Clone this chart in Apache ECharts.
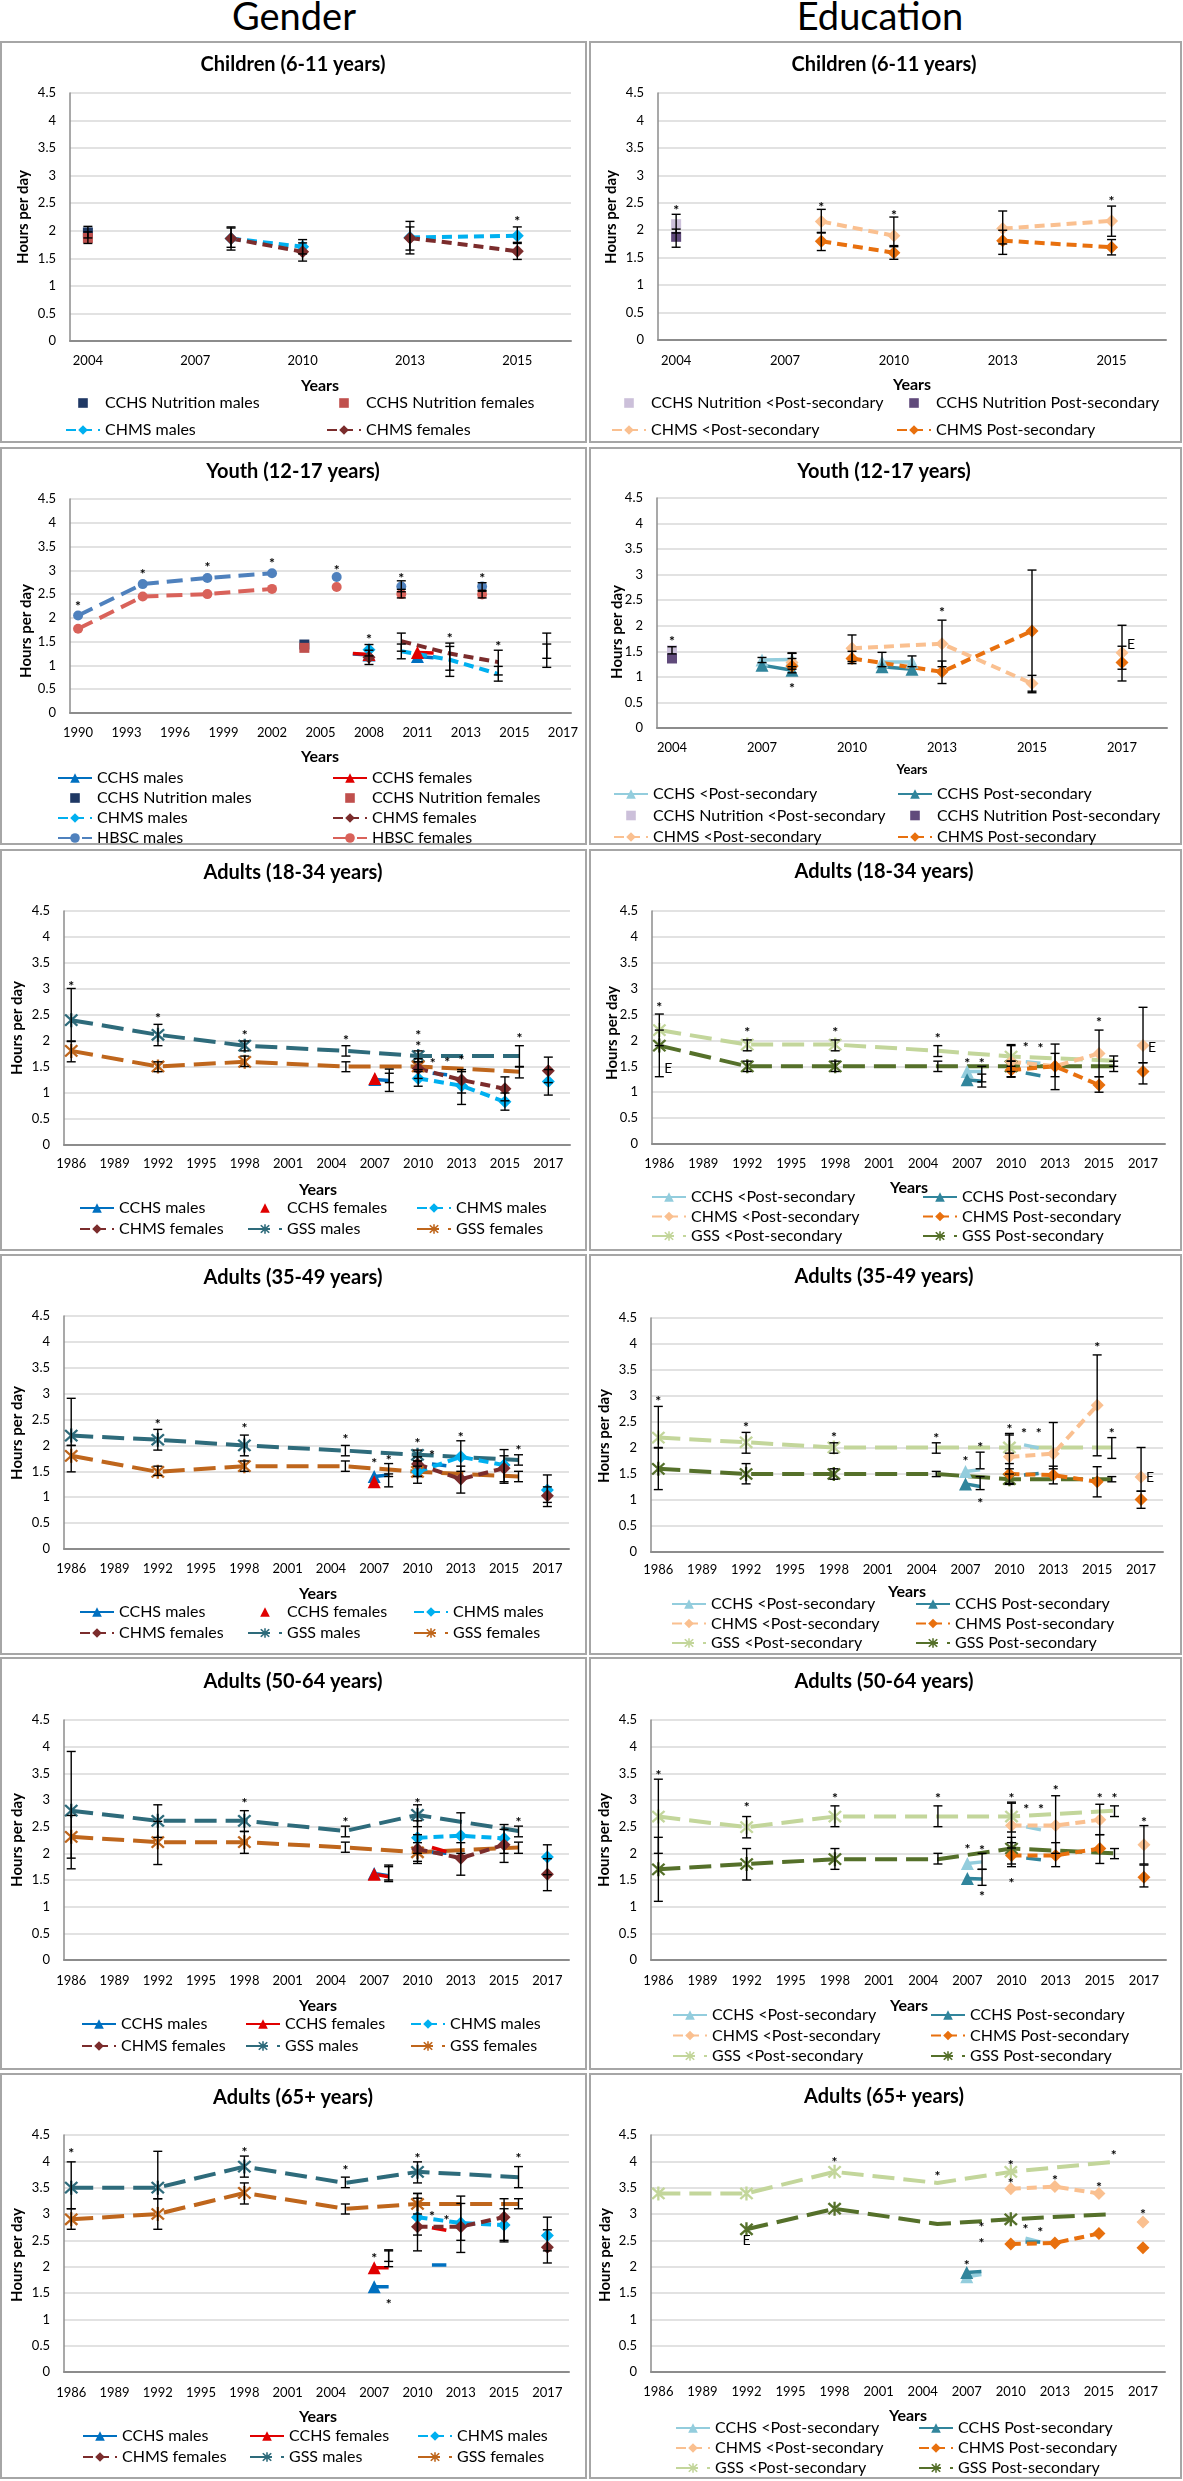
<!DOCTYPE html>
<html><head><meta charset="utf-8">
<script src="https://cdn.jsdelivr.net/npm/echarts/dist/echarts.min.js"></script>
<style>
html,body{margin:0;padding:0;background:#fff;}
body{width:1183px;height:2481px;position:relative;overflow:hidden;font-family:Lato,'Noto Sans',sans-serif;}
.hdr{position:absolute;top:0;height:30px;line-height:30px;font-size:38px;color:#000;text-align:center;width:400px;}
.box{position:absolute;border:2px solid #A6A6A6;box-sizing:border-box;}
.chart{position:absolute;}
</style></head><body>
<div class="hdr" style="left:94px">Gender</div>
<div class="hdr" style="left:680px">Education</div>
<script>
// ---------- tick labels ----------
const CHILD_TICKS = ['2004','2007','2010','2013','2015'];
const YOUTH_G_TICKS = ['1990','1993','1996','1999','2002','2005','2008','2011','2013','2015','2017'];
const YOUTH_E_TICKS = ['2004','2007','2010','2013','2015','2017'];
const ADULT_TICKS = ['1986','1989','1992','1995','1998','2001','2004','2007','2010','2013','2015','2017'];

// points: [slot, hours, low, high]; null = break in the line
// ---------- Children (6-11) gender ----------
const CHG_NUT_M = [[0,1.97,1.87,2.08]];
const CHG_NUT_F = [[0,1.87,1.77,1.98]];
const CHG_CHMS_M = [[4,1.86,1.65,2.05],[6,1.71,1.58,1.84],null,[9,1.88,1.58,2.17],[12,1.91,1.77,2.07]];
const CHG_CHMS_F = [[4,1.86,1.70,2.07],[6,1.62,1.45,1.78],null,[9,1.87,1.65,2.07],[12,1.63,1.48,1.79]];
const CHG_NOTES = [[12,2.22,'*']];
// ---------- Children education ----------
const CHE_NUT_L = [[0,2.11,1.95,2.29]];
const CHE_NUT_P = [[0,1.88,1.69,2.02]];
const CHE_CHMS_L = [[4,2.16,1.95,2.38],[6,1.90,1.70,2.24],null,[9,2.03,1.75,2.35],[12,2.17,1.89,2.44]];
const CHE_CHMS_P = [[4,1.80,1.63,1.96],[6,1.59,1.47,1.72],null,[9,1.81,1.56,2.00],[12,1.69,1.55,1.83]];
const CHE_NOTES = [[0,2.41,'*'],[4,2.47,'*'],[6,2.32,'*'],[12,2.58,'*']];
// ---------- Youth (12-17) gender ----------
const YTG_HBSC_M = [[0,2.05],[4,2.71],[8,2.84],[12,2.94],null,[16,2.86],null,[20,2.66,2.55,2.78],null,[25,2.66,2.58,2.74]];
const YTG_HBSC_F = [[0,1.77],[4,2.45],[8,2.50],[12,2.61],null,[16,2.65],null,[20,2.50,2.42,2.60],null,[25,2.49,2.42,2.56]];
const YTG_NUT_M = [[14,1.44]];
const YTG_NUT_F = [[14,1.37]];
const YTG_CCHS_M = [[17,1.24],[18,1.22],null,[21,1.19],[22,1.16]];
const YTG_CCHS_F = [[17,1.25],[18,1.23],null,[21,1.27],[22,1.26]];
const YTG_CHMS_M = [[18,1.33,1.20,1.44],null,[20,1.30,1.14,1.45],[23,1.12,0.90,1.40],[26,0.82,0.67,0.98],null,[29,1.21,0.96,1.45]];
const YTG_CHMS_F = [[18,1.17,1.02,1.32],null,[20,1.51,1.30,1.68],[23,1.25,0.77,1.47],[26,1.07,0.80,1.32],null,[29,1.42,1.15,1.68]];
const YTG_NOTES = [[0,2.31,'*'],[4,2.97,'*'],[8,3.13,'*'],[12,3.21,'*'],[16,3.07,'*'],[20,2.89,'*'],[25,2.89,'*'],[18,1.61,'*'],[23,1.63,'*'],[26,1.47,'*']];
// ---------- Youth education ----------
const YTE_NUT_L = [[0,1.52,1.45,1.59]];
const YTE_NUT_P = [[0,1.36]];
const YTE_CCHS_L = [[3,1.33,1.28,1.38],[4,1.34,1.20,1.47],null,[7,1.29,1.20,1.48],[8,1.29,1.20,1.41]];
const YTE_CCHS_P = [[3,1.23],[4,1.13],null,[7,1.20],[8,1.15]];
const YTE_CHMS_L = [[4,1.28,1.15,1.46],null,[6,1.56,1.30,1.82],[9,1.65,1.20,2.11],[12,0.87,0.69,1.03],null,[15,1.47,1.15,2.01]];
const YTE_CHMS_P = [[4,1.21,1.08,1.36],null,[6,1.36,1.26,1.50],[9,1.10,0.87,1.31],[12,1.90,0.72,3.09],null,[15,1.28,0.92,1.60]];
const YTE_NOTES = [[0,1.75,'*'],[9,2.32,'*'],[4,0.84,'*'],[15,1.64,'E','r']];
// ---------- Adults 18-34 gender ----------
const A1G_GSS_M = [[0,2.40,1.99,3.01],[6,2.12,1.91,2.32],[12,1.91,1.81,2.00],[19,1.81,1.71,1.91],[24,1.71,1.60,1.81],[31,1.71,1.50,1.91]];
const A1G_GSS_F = [[0,1.81,1.60,2.00],[6,1.51,1.41,1.60],[12,1.60,1.51,1.71],[19,1.51,1.41,1.60],[24,1.51,1.41,1.60],[31,1.41,1.29,1.51]];
const A1G_CCHS_M = [[21,1.26],[22,1.24],null,[25,1.38],[26,1.35]];
const A1G_CCHS_F = [[21,1.28],[22,1.22],null,[25,1.46],[26,1.44]];
const A1G_CHMS_M = [[22,1.35,1.20,1.46],null,[24,1.28,1.13,1.45],[27,1.14,0.78,1.41],[30,0.83,0.67,1.00],null,[33,1.22,0.96,1.45]];
const A1G_CHMS_F = [[22,1.20,1.03,1.38],null,[24,1.47,1.28,1.66],[27,1.25,1.00,1.45],[30,1.08,0.85,1.31],null,[33,1.43,1.20,1.69]];
const A1G_NOTES = [[0,3.11,'*'],[6,2.49,'*'],[12,2.16,'*'],[19,2.07,'*'],[24,2.16,'*'],[24,1.96,'*'],[25,1.62,'*'],[26,1.65,'*'],[27,1.69,'*'],[31,2.10,'*']];
// ---------- Adults 18-34 education ----------
const A1E_GSS_L = [[0,2.20,1.90,2.51],[6,1.92,1.80,2.01],[12,1.92,1.80,2.01],[19,1.80,1.69,1.90],[24,1.69,1.50,1.90],[31,1.61,1.50,1.70]];
const A1E_GSS_P = [[0,1.90,1.30,2.20],[6,1.50,1.40,1.60],[12,1.50,1.40,1.60],[19,1.50,1.40,1.60],[24,1.50,1.30,1.60],[31,1.50,1.40,1.60]];
const A1E_CCHS_L = [[21,1.40],[22,1.40],null,[25,1.59],[26,1.56]];
const A1E_CCHS_P = [[21,1.24],[22,1.21],null,[25,1.37],[26,1.32]];
const A1E_CHMS_L = [[22,1.34,1.20,1.50],null,[24,1.59,1.40,1.92],[27,1.50,1.30,1.93],[30,1.75,1.30,2.20],null,[33,1.90,1.57,2.64]];
const A1E_CHMS_P = [[22,1.21,1.10,1.35],null,[24,1.43,1.29,1.60],[27,1.50,1.05,1.75],[30,1.14,1.00,1.30],null,[33,1.40,1.16,1.57]];
const A1E_NOTES = [[0,2.70,'*'],[6,2.22,'*'],[12,2.22,'*'],[19,2.10,'*'],[21,1.61,'*'],[22,1.61,'*'],[25,1.92,'*'],[26,1.90,'*'],[30,2.40,'*'],[0,1.45,'E','r'],[33,1.87,'E','r']];
// ---------- Adults 35-49 gender ----------
const A2G_GSS_M = [[0,2.19,2.00,2.91],[6,2.11,1.91,2.31],[12,2.00,1.80,2.20],[19,1.90,1.80,2.00],[24,1.82,1.70,1.91],[31,1.72,1.62,1.82]];
const A2G_GSS_F = [[0,1.80,1.49,2.00],[6,1.49,1.42,1.60],[12,1.60,1.50,1.70],[19,1.60,1.50,1.70],[24,1.49,1.40,1.60],[31,1.40,1.30,1.50]];
const A2G_CCHS_M = [[21,1.40],[22,1.43],null,[25,1.64],[26,1.61]];
const A2G_CCHS_F = [[21,1.30],[22,1.27],null,[25,1.46],[26,1.56]];
const A2G_CHMS_M = [[22,1.54,1.40,1.65],null,[24,1.49,1.27,1.70],[27,1.78,1.50,2.09],[30,1.62,1.30,1.92],null,[33,1.14,0.90,1.43]];
const A2G_CHMS_F = [[22,1.31,1.20,1.45],null,[24,1.64,1.40,1.78],[27,1.35,1.08,1.60],[30,1.56,1.27,1.80],null,[33,1.03,0.82,1.20]];
const A2G_NOTES = [[6,2.46,'*'],[12,2.39,'*'],[19,2.18,'*'],[21,1.70,'*'],[22,1.76,'*'],[24,2.09,'*'],[25,1.86,'*'],[27,2.22,'*'],[31,1.96,'*']];
// ---------- Adults 35-49 education ----------
const A2E_GSS_L = [[0,2.20,2.00,2.80],[6,2.11,1.90,2.30],[12,2.01,1.90,2.10],[19,2.01,1.90,2.10],[24,2.01,1.90,2.28],[31,2.01,1.80,2.20]];
const A2E_GSS_P = [[0,1.60,1.20,2.01],[6,1.50,1.31,1.70],[12,1.50,1.40,1.60],[19,1.50,1.45,1.55],[24,1.40,1.30,1.50],[31,1.40,1.35,1.45]];
const A2E_CCHS_L = [[21,1.55],[22,1.58],null,[25,2.06],[26,2.00]];
const A2E_CCHS_P = [[21,1.31],[22,1.26],null,[25,1.48],[26,1.51]];
const A2E_CHMS_L = [[22,1.76,1.60,1.92],null,[24,1.83,1.60,2.25],[27,1.89,1.60,2.49],[30,2.82,1.85,3.79],null,[33,1.44,1.17,2.01]];
const A2E_CHMS_P = [[22,1.31,1.20,1.45],null,[24,1.50,1.32,1.70],[27,1.48,1.31,1.65],[30,1.35,1.06,1.64],null,[33,1.01,0.84,1.17]];
const A2E_NOTES = [[0,2.96,'*'],[6,2.46,'*'],[12,2.26,'*'],[19,2.24,'*'],[21,1.79,'*'],[22,2.06,'*'],[22,1.00,'*'],[24,2.41,'*'],[25,2.33,'*'],[26,2.33,'*'],[30,3.99,'*'],[31,2.34,'*'],[33,1.44,'E','r']];
// ---------- Adults 50-64 gender ----------
const A3G_GSS_M = [[0,2.80,1.71,3.91],[6,2.61,2.30,2.91],[12,2.61,2.41,2.80],[19,2.42,2.31,2.51],[24,2.72,2.50,2.91],[31,2.42,2.31,2.51]];
const A3G_GSS_F = [[0,2.31,1.91,2.71],[6,2.21,1.79,2.60],[12,2.21,2.00,2.41],[19,2.11,2.02,2.21],[24,2.02,1.85,2.20],[31,2.11,2.00,2.21]];
const A3G_CCHS_M = [[21,1.62],[22,1.58],null,[25,2.02],[26,2.00]];
const A3G_CCHS_F = [[21,1.61],[22,1.56],null,[25,2.11],[26,2.03]];
const A3G_CHMS_M = [[22,1.62,1.50,1.75],null,[24,2.29,2.00,2.61],[27,2.33,2.00,2.76],[30,2.28,2.00,2.54],null,[33,1.93,1.60,2.16]];
const A3G_CHMS_F = [[22,1.66,1.47,1.78],null,[24,2.08,1.81,2.35],[27,1.91,1.59,2.20],[30,2.16,1.83,2.45],null,[33,1.61,1.30,1.90]];
const A3G_NOTES = [[12,2.99,'*'],[19,2.64,'*'],[24,2.99,'*'],[31,2.64,'*']];
// ---------- Adults 50-64 education ----------
const A3E_GSS_L = [[0,2.69,2.00,3.39],[6,2.49,2.29,2.69],[12,2.69,2.50,2.89],[19,2.69,2.50,2.89],[24,2.69,2.40,2.96],[31,2.80,2.69,2.89]];
const A3E_GSS_P = [[0,1.70,1.10,2.30],[6,1.80,1.50,2.09],[12,1.89,1.70,2.09],[19,1.89,1.80,2.00],[24,2.09,1.80,2.30],[31,2.00,1.90,2.09]];
const A3E_CCHS_L = [[21,1.81],[22,1.84],null,[25,2.50],[26,2.44]];
const A3E_CCHS_P = [[21,1.53],[22,1.52],null,[25,1.91],[26,1.88]];
const A3E_CHMS_L = [[22,1.86,1.70,2.00],null,[24,2.52,2.10,2.94],[27,2.52,2.00,3.08],[30,2.63,2.35,2.92],null,[33,2.16,1.80,2.52]];
const A3E_CHMS_P = [[22,1.55,1.40,1.70],null,[24,1.96,1.75,2.20],[27,1.96,1.75,2.20],[30,2.09,1.81,2.35],null,[33,1.55,1.37,1.78]];
const A3E_NOTES = [[0,3.51,'*'],[6,2.91,'*'],[12,3.08,'*'],[19,3.09,'*'],[21,2.12,'*'],[22,2.11,'*'],[24,3.09,'*'],[24,1.50,'*'],[25,2.88,'*'],[26,2.87,'*'],[27,3.23,'*'],[30,3.09,'*'],[31,3.08,'*'],[33,2.64,'*'],[22,1.24,'*']];
// ---------- Adults 65+ gender ----------
const A4G_GSS_M = [[0,3.50,3.10,3.99],[6,3.50,3.29,4.19],[12,3.90,3.70,4.10],[19,3.59,3.50,3.70],[24,3.80,3.59,3.99],[31,3.70,3.50,3.90]];
const A4G_GSS_F = [[0,2.90,2.71,3.10],[6,3.00,2.71,3.29],[12,3.40,3.19,3.59],[19,3.10,3.00,3.19],[24,3.19,3.00,3.39],[31,3.19,3.10,3.29]];
const A4G_CCHS_M = [[21,1.62],[22,1.62],null,[25,2.03],[26,2.03]];
const A4G_CCHS_F = [[21,1.98],[22,1.98],null,[25,2.74],[26,2.69]];
const A4G_CHMS_M = [[22,2.25,2.10,2.32],null,[24,2.94,2.60,3.30],[27,2.83,2.50,3.20],[30,2.79,2.50,3.10],null,[33,2.59,2.30,2.94]];
const A4G_CHMS_F = [[22,2.18,2.00,2.30],null,[24,2.76,2.30,3.39],[27,2.76,2.27,3.34],[30,2.94,2.47,3.29],null,[33,2.37,2.07,2.70]];
const A4G_NOTES = [[0,4.21,'*'],[12,4.22,'*'],[19,3.88,'*'],[24,4.12,'*'],[31,4.12,'*'],[21,2.21,'*'],[22,1.33,'*'],[25,3.01,'*'],[26,2.94,'*']];
// ---------- Adults 65+ education ----------
const A4E_GSS_L = [[0,3.39],[6,3.39],[12,3.80],[19,3.59],[24,3.80],[31,3.99]];
const A4E_GSS_P = [[6,2.71],[12,3.10],[19,2.81],[24,2.90],[31,3.00]];
const A4E_CCHS_L = [[21,1.81],[22,1.85],null,[25,2.54],[26,2.47]];
const A4E_CCHS_P = [[21,1.89],[22,1.91],null,[25,2.47],[26,2.47]];
const A4E_CHMS_L = [[22,2.30],null,[24,3.48],[27,3.52],[30,3.39],null,[33,2.85]];
const A4E_CHMS_P = [[22,2.09],null,[24,2.43],[27,2.45],[30,2.63],null,[33,2.36]];
const A4E_NOTES = [[12,4.03,'*'],[19,3.77,'*'],[24,3.98,'*'],[24,3.63,'*'],[27,3.69,'*'],[30,3.56,'*'],[31,4.17,'*'],[21,2.07,'*'],[22,2.81,'*'],[22,2.49,'*'],[25,2.76,'*'],[26,2.71,'*'],[33,3.04,'*'],[6,2.50,'E']];

// ---------- styles ----------
const FONT = "Lato, 'Noto Sans', sans-serif";
const ASTER = 'path://M8.5,0L11.5,0L11.5,20L8.5,20Z M0.9,3.1L3.1,0.9L19.1,16.9L16.9,19.1Z M16.9,0.9L19.1,3.1L3.1,19.1L0.9,16.9Z';
const STY = {
  'CCHS males': {c:'#0070C0', s:'triangle', z:13, d:'solid', w:3.5},
  'CCHS females': {c:'#E00000', s:'triangle', z:13, d:'solid', w:3.5},
  'CCHS Nutrition males': {c:'#1F3864', s:'rect', z:10, k:'marker'},
  'CCHS Nutrition females': {c:'#C0504D', s:'rect', z:10, k:'marker'},
  'CHMS males': {c:'#00B0F0', s:'diamond', z:13, d:[10,6], w:4},
  'CHMS females': {c:'#7B2C2C', s:'diamond', z:13, d:[10,6], w:4},
  'HBSC males': {c:'#4F81BD', s:'circle', z:10, d:[16,8], w:4},
  'HBSC females': {c:'#D9625A', s:'circle', z:10, d:[16,8], w:4},
  'GSS males': {c:'#2E6B7B', s:ASTER, z:14, d:[22,9], w:4},
  'GSS females': {c:'#BF661C', s:ASTER, z:14, d:[22,9], w:4},
  'CCHS Nutrition <Post-secondary': {c:'#CCC0DA', s:'rect', z:10, k:'marker'},
  'CCHS Nutrition Post-secondary': {c:'#604A7B', s:'rect', z:10, k:'marker'},
  'CHMS <Post-secondary': {c:'#FAC090', s:'diamond', z:13, d:[10,6], w:4},
  'CHMS Post-secondary': {c:'#E8700E', s:'diamond', z:13, d:[10,6], w:4},
  'CCHS <Post-secondary': {c:'#93CDDD', s:'triangle', z:13, d:'solid', w:3.5},
  'CCHS Post-secondary': {c:'#31859C', s:'triangle', z:13, d:'solid', w:3.5},
  'GSS <Post-secondary': {c:'#C3D69B', s:ASTER, z:14, d:[22,9], w:4},
  'GSS Post-secondary': {c:'#55702A', s:ASTER, z:14, d:[22,9], w:4}
};
const EDU_LEG = [['CCHS <Post-secondary','CHMS <Post-secondary','GSS <Post-secondary'],['CCHS Post-secondary','CHMS Post-secondary','GSS Post-secondary']];
const GEN_LEG = [['CCHS males','CHMS females'],['CCHS females','GSS males'],['CHMS males','GSS females']];
const ROWS = [[41,402],[447,398],[849,402],[1254,401],[1657,413],[2073,406]];

const PANELS = [
 {col:0,row:0,title:'Children (6-11 years)',ticks:CHILD_TICKS,slots:14,grid:[70,52,501,248],tXY:[293,24],yXY:[23,176],yrXY:[320,345],yrSize:16,lab:13,
  legX:[65,326],legTop:354,legGap:11,leg:[['CCHS Nutrition males','CHMS males'],['CCHS Nutrition females','CHMS females']],
  ser:[['CHMS males',CHG_CHMS_M],['CHMS females',CHG_CHMS_F],['CCHS Nutrition males',CHG_NUT_M],['CCHS Nutrition females',CHG_NUT_F]],notes:CHG_NOTES},
 {col:1,row:0,title:'Children (6-11 years)',ticks:CHILD_TICKS,slots:14,grid:[70,52,508,247],tXY:[296,24],yXY:[23,176],yrXY:[324,344],yrSize:16,lab:14,
  legX:[23,308],legTop:354,legGap:11,leg:[['CCHS Nutrition <Post-secondary','CHMS <Post-secondary'],['CCHS Nutrition Post-secondary','CHMS Post-secondary']],
  ser:[['CHMS <Post-secondary',CHE_CHMS_L],['CHMS Post-secondary',CHE_CHMS_P],['CCHS Nutrition <Post-secondary',CHE_NUT_L],['CCHS Nutrition Post-secondary',CHE_NUT_P]],notes:CHE_NOTES},
 {col:0,row:1,title:'Youth (12-17 years)',ticks:YOUTH_G_TICKS,slots:31,grid:[70,52,501,214],tXY:[293,25],yXY:[26,184],yrXY:[320,310],yrSize:16,lab:13,
  legX:[57,332],legTop:323,legGap:4,leg:[['CCHS males','CCHS Nutrition males','CHMS males','HBSC males'],['CCHS females','CCHS Nutrition females','CHMS females','HBSC females']],
  ser:[['HBSC males',YTG_HBSC_M],['HBSC females',YTG_HBSC_F],['CCHS Nutrition males',YTG_NUT_M],['CCHS Nutrition females',YTG_NUT_F],['CCHS males',YTG_CCHS_M],['CCHS females',YTG_CCHS_F],['CHMS males',YTG_CHMS_M],['CHMS females',YTG_CHMS_F]],notes:YTG_NOTES},
 {col:1,row:1,title:'Youth (12-17 years)',ticks:YOUTH_E_TICKS,slots:17,grid:[69,51,510,230],tXY:[296,25],yXY:[29,185],yrXY:[324,323],yrSize:13,lab:13,
  legX:[25,309],legTop:339,legGap:5.5,leg:[['CCHS <Post-secondary','CCHS Nutrition <Post-secondary','CHMS <Post-secondary'],['CCHS Post-secondary','CCHS Nutrition Post-secondary','CHMS Post-secondary']],
  ser:[['CCHS Nutrition <Post-secondary',YTE_NUT_L],['CCHS Nutrition Post-secondary',YTE_NUT_P],['CCHS <Post-secondary',YTE_CCHS_L],['CCHS Post-secondary',YTE_CCHS_P],['CHMS <Post-secondary',YTE_CHMS_L],['CHMS Post-secondary',YTE_CHMS_P]],notes:YTE_NOTES},
 {col:0,row:2,title:'Adults (18-34 years)',ticks:ADULT_TICKS,slots:35,grid:[64,62,506,234],tXY:[293,24],yXY:[17,179],yrXY:[318,341],yrSize:16,lab:12,
  legX:[79,247,416],legTop:351,legGap:5,leg:GEN_LEG,
  ser:[['GSS males',A1G_GSS_M],['GSS females',A1G_GSS_F],['CCHS males',A1G_CCHS_M],['CCHS females',A1G_CCHS_F,'marker'],['CHMS males',A1G_CHMS_M],['CHMS females',A1G_CHMS_F]],notes:A1G_NOTES},
 {col:1,row:2,title:'Adults (18-34 years)',ticks:ADULT_TICKS,slots:35,grid:[64,62,513,233],tXY:[296,23],yXY:[24,184],yrXY:[321,339],yrSize:16,lab:13,
  legX:[63,334],legTop:340,legGap:3.5,leg:EDU_LEG,
  ser:[['GSS <Post-secondary',A1E_GSS_L],['GSS Post-secondary',A1E_GSS_P],['CCHS <Post-secondary',A1E_CCHS_L],['CCHS Post-secondary',A1E_CCHS_P],['CHMS <Post-secondary',A1E_CHMS_L],['CHMS Post-secondary',A1E_CHMS_P]],notes:A1E_NOTES},
 {col:0,row:3,title:'Adults (35-49 years)',ticks:ADULT_TICKS,slots:35,grid:[64,62,505,233],tXY:[293,24],yXY:[17,179],yrXY:[318,340],yrSize:16,lab:13,
  legX:[79,247,413],legTop:350,legGap:5,leg:GEN_LEG,
  ser:[['GSS males',A2G_GSS_M],['GSS females',A2G_GSS_F],['CCHS males',A2G_CCHS_M],['CCHS females',A2G_CCHS_F,'marker'],['CHMS males',A2G_CHMS_M],['CHMS females',A2G_CHMS_F]],notes:A2G_NOTES},
 {col:1,row:3,title:'Adults (35-49 years)',ticks:ADULT_TICKS,slots:35,grid:[63,64,512,234],tXY:[296,23],yXY:[16,182],yrXY:[319,338],yrSize:16,lab:11,
  legX:[83,327],legTop:342,legGap:3.5,leg:EDU_LEG,
  ser:[['GSS <Post-secondary',A2E_GSS_L],['GSS Post-secondary',A2E_GSS_P],['CCHS <Post-secondary',A2E_CCHS_L],['CCHS Post-secondary',A2E_CCHS_P],['CHMS <Post-secondary',A2E_CHMS_L],['CHMS Post-secondary',A2E_CHMS_P]],notes:A2E_NOTES},
 {col:0,row:4,title:'Adults (50-64 years)',ticks:ADULT_TICKS,slots:35,grid:[64,63,505,240],tXY:[293,25],yXY:[17,183],yrXY:[318,349],yrSize:16,lab:14,
  legX:[81,245,410],legTop:359,legGap:6,leg:GEN_LEG,
  ser:[['GSS males',A3G_GSS_M],['GSS females',A3G_GSS_F],['CCHS males',A3G_CCHS_M],['CCHS females',A3G_CCHS_F],['CHMS males',A3G_CHMS_M],['CHMS females',A3G_CHMS_F]],notes:A3G_NOTES},
 {col:1,row:4,title:'Adults (50-64 years)',ticks:ADULT_TICKS,slots:35,grid:[63,63,515,240],tXY:[296,25],yXY:[16,183],yrXY:[321,349],yrSize:16,lab:14,
  legX:[84,342],legTop:350,legGap:4.5,leg:EDU_LEG,
  ser:[['GSS <Post-secondary',A3E_GSS_L],['GSS Post-secondary',A3E_GSS_P],['CCHS <Post-secondary',A3E_CCHS_L],['CCHS Post-secondary',A3E_CCHS_P],['CHMS <Post-secondary',A3E_CHMS_L],['CHMS Post-secondary',A3E_CHMS_P]],notes:A3E_NOTES},
 {col:0,row:5,title:'Adults (65+ years)',ticks:ADULT_TICKS,slots:35,grid:[64,62,505,237],tXY:[293,25],yXY:[17,182],yrXY:[318,344],yrSize:16,lab:14,
  legX:[82,249,417],legTop:355,legGap:5,leg:GEN_LEG,
  ser:[['GSS males',A4G_GSS_M],['GSS females',A4G_GSS_F],['CCHS males',A4G_CCHS_M],['CCHS females',A4G_CCHS_F],['CHMS males',A4G_CHMS_M],['CHMS females',A4G_CHMS_F]],notes:A4G_NOTES},
 {col:1,row:5,title:'Adults (65+ years)',ticks:ADULT_TICKS,slots:35,grid:[63,62,514,237],tXY:[296,24],yXY:[17,182],yrXY:[320,343],yrSize:16,lab:13,
  legX:[87,330],legTop:347,legGap:4,leg:EDU_LEG,
  ser:[['GSS <Post-secondary',A4E_GSS_L],['GSS Post-secondary',A4E_GSS_P],['CCHS <Post-secondary',A4E_CCHS_L],['CCHS Post-secondary',A4E_CCHS_P],['CHMS <Post-secondary',A4E_CHMS_L],['CHMS Post-secondary',A4E_CHMS_P]],notes:A4E_NOTES}
];

function segments(points){
  const out=[]; let cur=[];
  points.forEach(p=>{ if(p===null){ if(cur.length) out.push(cur); cur=[]; } else cur.push(p); });
  if(cur.length) out.push(cur);
  return out;
}
function categories(ticks, n){
  const a=[]; for(let i=0;i<n;i++){ a.push(i%3===0 && ticks[i/3]!==undefined ? ticks[i/3] : ''); } return a;
}
function errItem(params, api){
  const x=api.value(0), lo=api.value(1), hi=api.value(2);
  const a=api.coord([x,lo]), b=api.coord([x,hi]); const h=4.5;
  const st={stroke:'#000', lineWidth:1.4};
  return {type:'group', children:[
    {type:'line', shape:{x1:a[0],y1:a[1],x2:b[0],y2:b[1]}, style:st},
    {type:'line', shape:{x1:a[0]-h,y1:a[1],x2:a[0]+h,y2:a[1]}, style:st},
    {type:'line', shape:{x1:b[0]-h,y1:b[1],x2:b[0]+h,y2:b[1]}, style:st}
  ]};
}

const EXTRA = 40;
PANELS.forEach(P=>{
  const [top,h]=ROWS[P.row];
  const box=document.createElement('div'); box.className='box';
  box.style.cssText=`left:${P.col?589:0}px;top:${top}px;width:${P.col?593:587}px;height:${h}px;`;
  document.body.appendChild(box);
  const el=document.createElement('div'); el.className='chart';
  const W=P.col?595:587;
  el.style.cssText=`left:${P.col?588:0}px;top:${top}px;width:${W}px;height:${h+EXTRA}px;`;
  document.body.appendChild(el);
  const chart=echarts.init(el,null,{renderer:'canvas',width:W,height:h+EXTRA});

  const series=[]; const bars=[];
  P.ser.forEach(([name, pts, kind])=>{
    const st=STY[name]; const markerOnly=(kind||st.k)==='marker';
    segments(pts).forEach(seg=>{
      series.push({type:'line',name,data:seg.map(p=>[p[0],p[1]]),symbol:st.s,symbolSize:st.z,showSymbol:true,
        itemStyle:{color:st.c},
        lineStyle: markerOnly ? {color:'rgba(0,0,0,0)',width:0,opacity:0} : {color:st.c,width:st.w,type:st.d},
        connectNulls:false,z:2,animation:false,silent:true,emphasis:{disabled:true}});
    });
    pts.forEach(p=>{ if(p && p.length>3 && p[2]!=null) bars.push([p[0],p[2],p[3]]); });
  });
  series.push({type:'custom',data:bars,renderItem:errItem,z:3,silent:true,animation:false,encode:{x:0,y:[1,2]}});
  series.push({type:'custom',data:P.notes.map(n=>[n[0],n[1]]),z:4,silent:true,animation:false,encode:{x:0,y:1},
    renderItem:(params,api)=>{
      const n=P.notes[params.dataIndex]; const pt=api.coord([n[0],n[1]]);
      const isStar=n[2]==='*'; const right=n[3]==='r';
      return {type:'text',x:pt[0]+(right?5:0),y:pt[1]+(isStar?3:0),
        style:{text:n[2],fill:'#000',font:(isStar?'bold 14px ':'14px ')+FONT,
          textAlign:right?'left':'center',textVerticalAlign:'middle',align:right?'left':'center',verticalAlign:'middle'}};
    }});

  const legends=P.leg.map((names,i)=>({orient:'vertical',left:P.legX[i],top:P.legTop,itemGap:P.legGap,
    itemWidth:34,itemHeight:12,padding:0,selectedMode:false,data:names,
    textStyle:{fontFamily:FONT,fontSize:16,color:'#000',lineHeight:16}}));

  const txt=(x,y,text,size,weight,rot)=>({type:'text',x,y,rotation:rot||0,silent:true,
    style:{text,fontFamily:FONT,fontSize:size,fontWeight:weight,fill:'#000',textAlign:'center',textVerticalAlign:'middle'}});

  chart.setOption({
    animation:false,
    grid:{left:P.grid[0],top:P.grid[1],width:P.grid[2],height:P.grid[3]},
    xAxis:{type:'category',data:categories(P.ticks,P.slots),boundaryGap:true,
      axisTick:{show:false},axisLine:{lineStyle:{color:'#8C8C8C',width:2}},
      axisLabel:{interval:2,margin:P.lab,fontSize:13,fontFamily:FONT,color:'#000'},splitLine:{show:false}},
    yAxis:{type:'value',min:0,max:4.5,interval:0.5,
      axisLine:{show:true,lineStyle:{color:'#8C8C8C',width:1.5}},axisTick:{show:false},
      splitLine:{lineStyle:{color:'#D9D9D9',width:1.5}},
      axisLabel:{margin:14,fontSize:13,fontFamily:FONT,color:'#000'}},
    legend:legends,
    graphic:{elements:[
      txt(P.tXY[0],P.tXY[1],P.title,20,'bold'),
      txt(P.yrXY[0],P.yrXY[1],'Years',P.yrSize,'bold'),
      txt(P.yXY[0],P.yXY[1],'Hours per day',15,'bold',Math.PI/2)
    ]},
    series
  });
});
</script>
</body></html>
